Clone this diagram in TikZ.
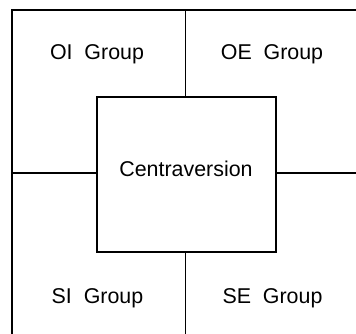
\documentclass[tikz,border=0pt]{standalone}
\usepackage{fontspec}
\setmainfont{Liberation Sans}
\begin{document}
\begin{tikzpicture}[x=1pt,y=-1pt,
  line/.style={line width=1.2pt,black},
  lbl/.style={font=\fontsize{21.4}{24}\selectfont,inner sep=0pt,anchor=base}]
\useasboundingbox (0,0) rectangle (356,334);
% frame (right and bottom edges lie outside the picture)
\coordinate (fBL) at (12,334);
\coordinate (fTL) at (12,10);
\coordinate (fTR) at (356,10);
\draw[line] (fBL) -- (fTL) -- (fTR);
% central box
\node[draw,line,minimum width=179pt,minimum height=155pt,inner sep=0pt] (box) at (186.5,174.5) {};
\node[lbl] (cen) at (186,176) {Centraversion};
% dividers
\coordinate (vt) at (185.5,10);
\coordinate (vb) at (185.5,334);
\coordinate (hl) at (12,173);
\coordinate (hr) at (356,173);
\draw[line] (vt) -- (vt |- box.north);
\draw[line] (vb) -- (vb |- box.south);
\draw[line] (hl) -- (hl -| box.west);
\draw[line] (hr) -- (hr -| box.east);
% labels
\node[lbl] (oi) at (97,60) {OI~~Group};
\node[lbl] (oe) at (272,60) {OE~~Group};
\node[lbl] (si) at (97.5,303) {SI~~Group};
\node[lbl] (se) at (272.5,303) {SE~~Group};
\end{tikzpicture}
\end{document}
